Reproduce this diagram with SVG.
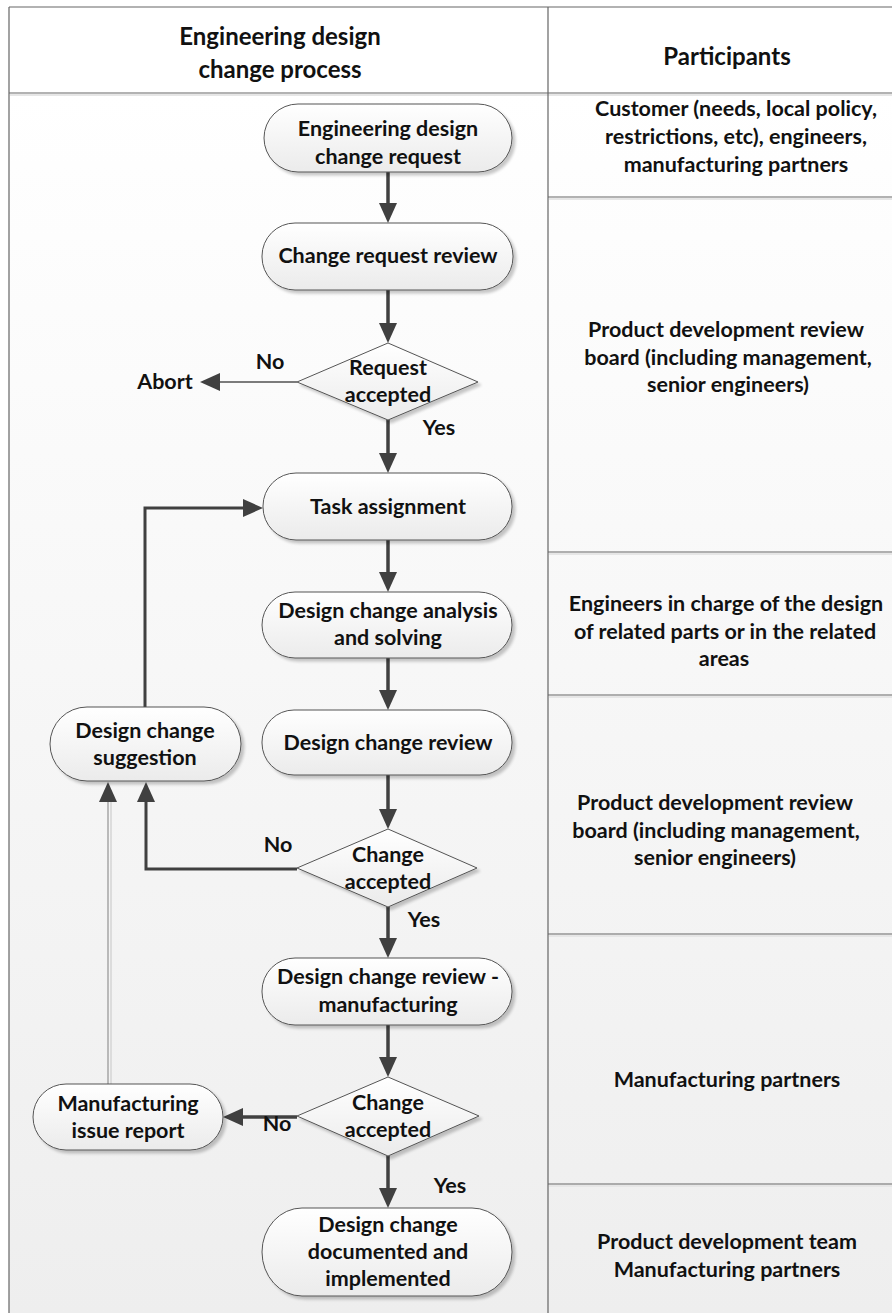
<svg xmlns="http://www.w3.org/2000/svg" width="892" height="1313" viewBox="0 0 892 1313">
  <style>
    .t { font-family: Lato, "Liberation Sans", sans-serif; font-weight: 700; font-size: 21.5px; fill: #111; text-anchor: middle; }
    .h { font-size: 24px; }
    .node { fill: url(#nodeFill); stroke: #555; stroke-width: 1; filter: url(#shadow); }
    .grid { stroke: #666; stroke-width: 1.2; fill: none; }
    .gridHi { stroke: #e6e6e6; stroke-width: 2; fill: none; }
    .flow { stroke: #404040; stroke-width: 3.5; fill: none; marker-end: url(#arrow); }
    .thin { stroke: #505050; stroke-width: 1.5; fill: none; marker-end: url(#arrow); }
  </style>
  <defs>
    <linearGradient id="bg" x1="0" y1="0" x2="0" y2="1">
      <stop offset="0" stop-color="#ffffff"/>
      <stop offset="1" stop-color="#eeeeee"/>
    </linearGradient>
    <linearGradient id="nodeFill" x1="0" y1="0" x2="0" y2="1">
      <stop offset="0" stop-color="#ffffff"/>
      <stop offset="1" stop-color="#ebebeb"/>
    </linearGradient>
    <filter id="shadow" x="-10%" y="-20%" width="125%" height="150%">
      <feGaussianBlur in="SourceAlpha" stdDeviation="1.5"/>
      <feOffset dx="3" dy="3" result="b"/>
      <feComponentTransfer><feFuncA type="linear" slope="0.22"/></feComponentTransfer>
      <feMerge><feMergeNode/><feMergeNode in="SourceGraphic"/></feMerge>
    </filter>
    <marker id="arrow" viewBox="0 0 20 20" refX="8" refY="10" markerWidth="20" markerHeight="20" markerUnits="userSpaceOnUse" orient="auto">
      <path d="M0,1 L20,10 L0,19 Z" fill="#404040"/>
    </marker>
  </defs>

  <!-- page background and swimlane frame -->
  <rect x="0" y="0" width="892" height="1313" fill="#ffffff"/>
  <rect x="9" y="93" width="883" height="1220" fill="url(#bg)"/>
  <g id="frame">
    <path class="gridHi" d="M549,199 H892 M549,554 H892 M549,697 H892 M549,936 H892 M549,1186 H892 M10,95 H892"/>
    <path class="grid" d="M9,7 H892 M9,7 V1313 M548,7 V1313 M9,93 H892"/>
    <path class="grid" d="M548,197 H892 M548,552 H892 M548,695 H892 M548,934 H892 M548,1184 H892"/>
  </g>

  <g id="header">
    <text class="t h" x="280" y="45">Engineering design</text>
    <text class="t h" x="280" y="78">change process</text>
    <text class="t h" x="727" y="65">Participants</text>
  </g>

  <g id="participants">
    <text class="t" x="736" y="116">Customer (needs, local policy,</text>
    <text class="t" x="736" y="144">restrictions, etc), engineers,</text>
    <text class="t" x="736" y="172">manufacturing partners</text>
    <text class="t" x="726" y="337">Product development review</text>
    <text class="t" x="728" y="365">board (including management,</text>
    <text class="t" x="728" y="392">senior engineers)</text>
    <text class="t" x="726" y="611">Engineers in charge of the design</text>
    <text class="t" x="725" y="639">of related parts or in the related</text>
    <text class="t" x="724" y="666">areas</text>
    <text class="t" x="715" y="810">Product development review</text>
    <text class="t" x="716" y="838">board (including management,</text>
    <text class="t" x="715" y="865">senior engineers)</text>
    <text class="t" x="727" y="1087">Manufacturing partners</text>
    <text class="t" x="727" y="1249">Product development team</text>
    <text class="t" x="727" y="1277">Manufacturing partners</text>
  </g>

  <!-- connectors -->
  <g id="connectors">
    <path class="flow" d="M388,172 V211"/>
    <path class="flow" d="M388,290 V331"/>
    <path class="flow" d="M388,420 V461"/>
    <path class="flow" d="M388,540 V580"/>
    <path class="flow" d="M388,658 V698"/>
    <path class="flow" d="M388,775 V817"/>
    <path class="flow" d="M388,907 V946"/>
    <path class="flow" d="M388,1025 V1065"/>
    <path class="flow" d="M388,1156 V1196"/>
    <path class="thin" d="M297,382 H212"/>
    <path class="flow" style="stroke-width:3" d="M145,707 V508 H251"/>
    <path class="flow" style="stroke-width:3" d="M297,869 H146 V794"/>
    <path class="flow" d="M297,1117 H235"/>
    <path d="M111,1084 V800" stroke="#d4d4d4" stroke-width="1.5" fill="none"/>
    <path d="M108,1084 V794" stroke="#9a9a9a" stroke-width="1.3" fill="none" marker-end="url(#arrow)"/>
    <text class="t" x="270" y="369">No</text>
    <text class="t" x="165" y="389">Abort</text>
    <text class="t" x="439" y="435">Yes</text>
    <text class="t" x="278" y="852">No</text>
    <text class="t" x="424" y="927">Yes</text>
    <text class="t" x="277" y="1131">No</text>
    <text class="t" x="450" y="1193">Yes</text>
  </g>

  <g id="n-request">
    <rect class="node" x="264" y="104" width="248" height="68" rx="34" ry="34"/>
    <text class="t" x="388" y="136">Engineering design</text>
    <text class="t" x="388" y="164">change request</text>
  </g>
  <g id="n-review">
    <rect class="node" x="262" y="223" width="251" height="67" rx="33" ry="33"/>
    <text class="t" x="388" y="263">Change request review</text>
  </g>
  <g id="d-request-accepted">
    <polygon class="node" points="388,343 478,382 388,420 297,382"/>
    <text class="t" x="388" y="375">Request</text>
    <text class="t" x="388" y="402">accepted</text>
  </g>
  <g id="n-task">
    <rect class="node" x="263" y="473" width="249" height="67" rx="33" ry="33"/>
    <text class="t" x="388" y="514">Task assignment</text>
  </g>
  <g id="n-analysis">
    <rect class="node" x="262" y="592" width="250" height="66" rx="33" ry="33"/>
    <text class="t" x="388" y="618">Design change analysis</text>
    <text class="t" x="388" y="645">and solving</text>
  </g>
  <g id="n-design-review">
    <rect class="node" x="262" y="710" width="250" height="65" rx="32" ry="32"/>
    <text class="t" x="388" y="750">Design change review</text>
  </g>
  <g id="d-change-accepted">
    <polygon class="node" points="388,829 477,868 388,907 297,868"/>
    <text class="t" x="388" y="862">Change</text>
    <text class="t" x="388" y="889">accepted</text>
  </g>
  <g id="n-mfg-review">
    <rect class="node" x="262" y="958" width="250" height="67" rx="33" ry="33"/>
    <text class="t" x="388" y="984">Design change review -</text>
    <text class="t" x="388" y="1012">manufacturing</text>
  </g>
  <g id="d-mfg-accepted">
    <polygon class="node" points="388,1077 479,1116 388,1156 297,1116"/>
    <text class="t" x="388" y="1110">Change</text>
    <text class="t" x="388" y="1137">accepted</text>
  </g>
  <g id="n-implemented">
    <rect class="node" x="262" y="1208" width="250" height="88" rx="40" ry="44"/>
    <text class="t" x="388" y="1232">Design change</text>
    <text class="t" x="388" y="1259">documented and</text>
    <text class="t" x="388" y="1286">implemented</text>
  </g>
  <g id="n-suggestion">
    <rect class="node" x="50" y="707" width="191" height="74" rx="37" ry="37"/>
    <text class="t" x="145" y="738">Design change</text>
    <text class="t" x="145" y="765">suggestion</text>
  </g>
  <g id="n-issue-report">
    <rect class="node" x="33" y="1084" width="190" height="66" rx="33" ry="33"/>
    <text class="t" x="128" y="1111">Manufacturing</text>
    <text class="t" x="128" y="1138">issue report</text>
  </g>
</svg>
